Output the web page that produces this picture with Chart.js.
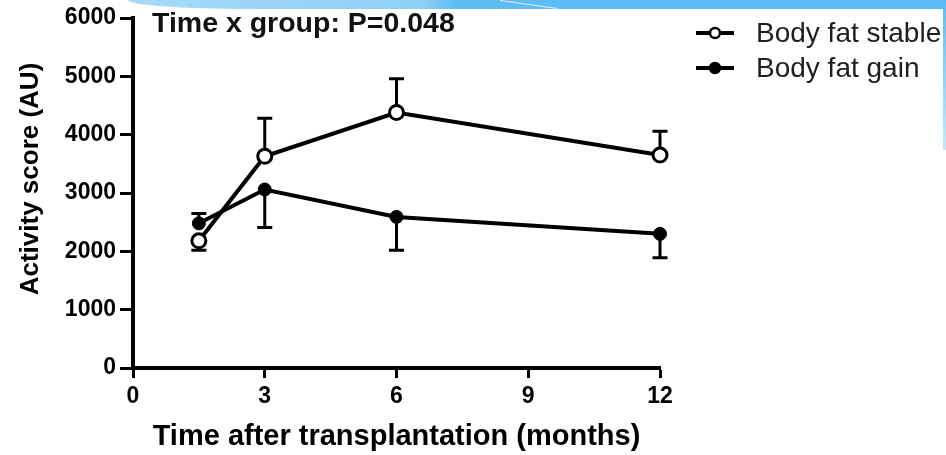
<!DOCTYPE html>
<html>
<head>
<meta charset="utf-8">
<script src="https://cdn.jsdelivr.net/npm/chart.js@4"></script>
<style>
    html, body { margin: 0; padding: 0; background: #fff; }
    #wrap { position: relative; width: 946px; height: 455px; overflow: hidden; background: #fff; }
    canvas { display: block; }
    /* slide decoration along the top and right edge */
    .band {
        position: absolute; left: 128px; top: 0; width: 818px; height: 9px;
        background: linear-gradient(to right, #a6daf8 0%, #8dd0f6 36%, #5ebef4 40%, #5bbcf4 100%);
        border-bottom-left-radius: 120px 9px;
    }
    .streak {
        position: absolute; left: 500px; top: 0; width: 58px; height: 1px;
        background: #fff; opacity: 0.8; transform-origin: 0 0; transform: rotate(8deg);
    }
    .edge {
        position: absolute; left: 943px; top: 0; width: 3px; height: 150px;
        background: linear-gradient(#5bbcf4, #c4e8fb);
    }
</style>
</head>
<body>
<div id="wrap">
    <canvas id="chart" width="946" height="455"></canvas>
    <div class="band"></div>
    <div class="streak"></div>
    <div class="edge"></div>
</div>
<script>
    'use strict';

    // data
    const months = [1.5, 3, 6, 12];
    const stableMean = [2180, 3630, 4380, 3650];
    const stableSem = [160, 650, 580, 410];
    const stableBarDir = [-1, 1, 1, 1];   // which side the error bar is drawn on
    const gainMean = [2480, 3060, 2590, 2300];
    const gainSem = [170, 650, 570, 410];
    const gainBarDir = [1, -1, -1, -1];

    const xTicks = [0, 3, 6, 9, 12];
    const yTicks = [0, 1000, 2000, 3000, 4000, 5000, 6000];
    const seriesLabels = ['Body fat stable', 'Body fat gain'];
    const xTitle = 'Time after transplantation (months)';
    const yTitle = 'Activity score (AU)';
    const note = 'Time x group: P=0.048';

    const FONT = '"Liberation Sans", Arial, Helvetica, sans-serif';

    function toPoints(xs, ys) {
        return xs.map((x, i) => ({ x, y: ys[i] }));
    }

    // one-sided SEM bars with a small cap
    const errorBars = {
        id: 'errorBars',
        beforeDatasetsDraw(chart) {
            const { ctx, scales: { x, y } } = chart;
            ctx.save();
            ctx.strokeStyle = '#000';
            ctx.lineWidth = 3;
            chart.data.datasets.forEach(ds => {
                ds.data.forEach((p, i) => {
                    const px = x.getPixelForValue(p.x);
                    const y0 = y.getPixelForValue(p.y);
                    const y1 = y.getPixelForValue(p.y + ds.errDir[i] * ds.err[i]);
                    ctx.beginPath();
                    ctx.moveTo(px, y0);
                    ctx.lineTo(px, y1);
                    ctx.moveTo(px - 7.5, y1);
                    ctx.lineTo(px + 7.5, y1);
                    ctx.stroke();
                });
            });
            ctx.restore();
        }
    };

    // legend to the right of the plot, the stats note and the y title
    const extras = {
        id: 'extras',
        afterDraw(chart) {
            const ctx = chart.ctx;
            const area = chart.chartArea;
            ctx.save();

            ctx.font = 'bold 28.5px ' + FONT;
            ctx.fillStyle = '#111';
            ctx.textBaseline = 'alphabetic';
            ctx.fillText(note, area.left + 19, 32);

            // y axis title, a little above the plot's middle as in the figure
            ctx.save();
            ctx.translate(31, 179);
            ctx.rotate(-Math.PI / 2);
            ctx.font = 'bold 26px ' + FONT;
            ctx.fillStyle = '#000';
            ctx.textAlign = 'center';
            ctx.textBaseline = 'middle';
            ctx.fillText(yTitle, 0, 0);
            ctx.restore();

            chart.data.datasets.forEach(ds => {
                const cy = 33 + seriesLabels.indexOf(ds.label) * 35;
                ctx.strokeStyle = '#000';
                ctx.lineWidth = 4;
                ctx.beginPath();
                ctx.moveTo(696, cy);
                ctx.lineTo(734, cy);
                ctx.stroke();
                ctx.beginPath();
                ctx.arc(715, cy, 5, 0, Math.PI * 2);
                ctx.fillStyle = ds.pointBackgroundColor;
                ctx.fill();
                ctx.lineWidth = 2.5;
                ctx.stroke();

                ctx.font = '28px ' + FONT;
                ctx.fillStyle = '#1e1e1e';
                ctx.textAlign = 'left';
                ctx.fillText(ds.label, 756, cy + 9);
            });
            ctx.restore();
        }
    };

    const tickFont = { family: FONT, size: 23, weight: 'bold' };

    new Chart(document.getElementById('chart').getContext('2d'), {
        type: 'line',
        data: {
            datasets: [
                {
                    label: seriesLabels[1],
                    data: toPoints(months, gainMean),
                    err: gainSem,
                    errDir: gainBarDir,
                    borderColor: '#000',
                    borderWidth: 4,
                    pointRadius: 6.5,
                    pointBorderWidth: 1,
                    pointBackgroundColor: '#000',
                    pointBorderColor: '#000',
                    order: 2,
                    clip: false
                },
                {
                    label: seriesLabels[0],
                    data: toPoints(months, stableMean),
                    err: stableSem,
                    errDir: stableBarDir,
                    borderColor: '#000',
                    borderWidth: 4,
                    pointRadius: 7,
                    pointBorderWidth: 3,
                    pointBackgroundColor: '#fff',
                    pointBorderColor: '#000',
                    order: 1,
                    clip: false
                }
            ]
        },
        options: {
            responsive: false,
            animation: false,
            devicePixelRatio: 1,
            layout: { padding: { top: 18, right: 286, bottom: 0, left: 0 } },
            plugins: {
                legend: { display: false },
                tooltip: { enabled: false }
            },
            scales: {
                x: {
                    type: 'linear',
                    min: 0,
                    max: 12,
                    afterBuildTicks: s => { s.ticks = xTicks.map(v => ({ value: v })); },
                    afterFit: s => { s.height = 87; },
                    grid: { drawOnChartArea: false, tickLength: 10, tickWidth: 3, tickColor: '#000' },
                    border: { color: '#000', width: 4 },
                    ticks: { color: '#000', font: tickFont, padding: 5, maxRotation: 0, callback: v => String(v) },
                    title: {
                        display: true, text: xTitle, color: '#000',
                        font: { family: FONT, size: 29, weight: 'bold' },
                        padding: { top: 0, bottom: 1 }
                    }
                },
                y: {
                    min: 0,
                    max: 6000,
                    afterBuildTicks: s => { s.ticks = yTicks.map(v => ({ value: v })); },
                    afterFit: s => { s.width = 133; },
                    grid: { drawOnChartArea: false, tickLength: 13, tickWidth: 3, tickColor: '#000' },
                    border: { color: '#000', width: 4 },
                    ticks: { color: '#000', font: tickFont, padding: 4, callback: v => String(v) }
                }
            }
        },
        plugins: [errorBars, extras]
    });
</script>
</body>
</html>
